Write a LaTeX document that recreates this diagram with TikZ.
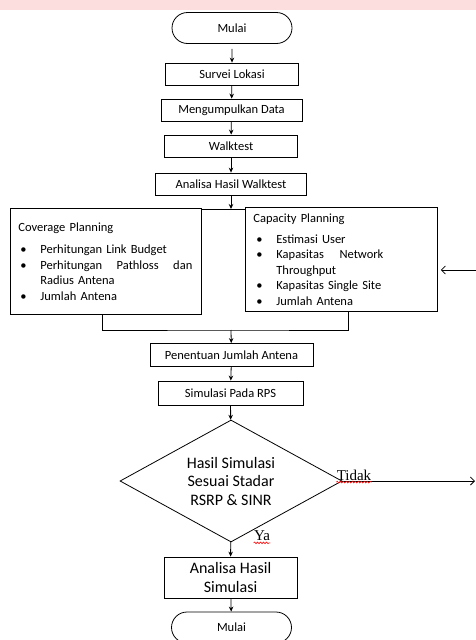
\documentclass[tikz,border=0pt]{standalone}
\usepackage{fontspec}
\setmainfont{Carlito}
\newfontfamily\tnr{Liberation Serif}
\usetikzlibrary{shapes.geometric,shapes.misc,arrows.meta,decorations.pathmorphing}
\definecolor{bandpink}{RGB}{252,222,222}
\newcommand{\bul}[1][2pt]{\hspace*{#1}\makebox[20pt][l]{\textbullet}}

\begin{document}
\begin{tikzpicture}[x=1pt, y=-1pt, line width=0.8pt,
            term/.style={draw, rounded rectangle, minimum width=120, minimum height=31, inner sep=0pt, font=\fontsize{12.5}{14}\selectfont},
            proc/.style={draw, rectangle, minimum height=22, inner sep=0pt, font=\fontsize{12.5}{14}\selectfont},
            panel/.style={draw, rectangle, minimum height=106, inner xsep=8pt, align=left, font=\fontsize{12.5}{15.5}\selectfont},
            dec/.style={draw, diamond, aspect=1.82, minimum width=222, minimum height=122, inner sep=0pt, align=center, font=\fontsize{16}{18.5}\selectfont},
            lbl/.style={inner sep=0pt, font=\tnr\fontsize{15}{17}\selectfont},
            arr/.style={-{Stealth[length=5pt, width=4.5pt]}},
            barb/.style={-{Straight Barb[length=4pt, width=8pt]}},
            squig/.style={red, line width=0.6pt, decorate, decoration={snake, amplitude=0.8pt, segment length=3pt}}
        ]

        \useasboundingbox (0,0) rectangle (476,640);
        \fill [bandpink] (0,0) rectangle (476,10);

        \node [term] (Start) at (232,28) {Mulai};
        \node [proc, minimum width=133] (Sur) at (232,74) {Survei Lokasi};
        \node [proc, minimum width=141] (Dat) at (231.5,110) {Mengumpulkan Data};
        \node [proc, minimum width=133] (Wt) at (231,146) {Walktest};
        \node [proc, minimum width=151] (AnWt) at (231,184) {Analisa Hasil Walktest};

        \node [panel, minimum width=191, text width=175, anchor=north west] (Cov) at (10,208) {Coverage Planning\\[7pt]
            \bul Perhitungan Link Budget\\
            \bul\makebox[152pt][l]{Perhitungan\hfill Pathloss\hfill dan}\\
            \hspace*{22pt}Radius Antena\\
            \bul Jumlah Antena};
        \node [panel, minimum width=192, minimum height=104, text width=176, anchor=north west] (Cap) at (245,207) {Capacity Planning\\[5.5pt]
            \bul[3pt]Estimasi User\\
            \bul[3pt]\makebox[107pt][l]{Kapasitas\hfill Network}\\
            \hspace*{23pt}Throughput\\
            \bul[3pt]Kapasitas Single Site\\
            \bul[3pt]Jumlah Antena};

        \node [proc, minimum width=163, minimum height=23] (Pen) at (231.5,355) {Penentuan Jumlah Antena};
        \node [proc, minimum width=145, minimum height=24] (Sim) at (230.5,393) {Simulasi Pada RPS};
        \node [dec] (Hs) at (231,481) {Hasil Simulasi\\Sesuai Stadar\\RSRP \& SINR};
        \node [proc, minimum width=133, minimum height=41, align=center, font=\fontsize{16}{18.5}\selectfont] (AnSim) at (230.5,577.5) {Analisa Hasil\\Simulasi};
        \node [term] (End) at (231.5,627.5) {Mulai};

        \node [lbl] (Td) at (354,475) {Tidak};
        \node [lbl] (Ya) at (262,536) {Ya};

        \coordinate (jt) at (231,209);
        \coordinate (jb) at (231,330);
        \coordinate (fb) at (476,270);
        \coordinate (te) at (475,481);

        \draw [arr, shorten <=5pt] (Start) -- (Sur);
        \draw [arr] (Sur) -- (Dat);
        \draw [arr] (Dat) -- (Wt);
        \draw [arr] (Wt) -- (AnWt);
        \draw [arr] (AnWt) -- (jt);
        \draw (jt -| Cov.east) -- (jt -| Cap.west);
        \draw ([xshift=-4pt]Cov.south) |- (jb) -| ([xshift=7pt]Cap.south);
        \draw [arr] (jb) -- (Pen);
        \draw [arr] (Pen) -- (Sim);
        \draw [arr] (Sim) -- (Hs);
        \draw [arr] (Hs) -- (AnSim);
        \draw [arr] (AnSim) -- (End);
        \draw [barb, shorten >=3pt] (fb) -- (Cap.east |- fb);
        \draw [barb] (Hs.east) -- (te);

        \draw [squig] ([yshift=-2pt]Td.base west) -- ([yshift=-2pt]Td.base east);
        \draw [squig] ([yshift=-2pt]Ya.base west) -- ([yshift=-2pt]Ya.base east);

        \end{tikzpicture}
\end{document}
